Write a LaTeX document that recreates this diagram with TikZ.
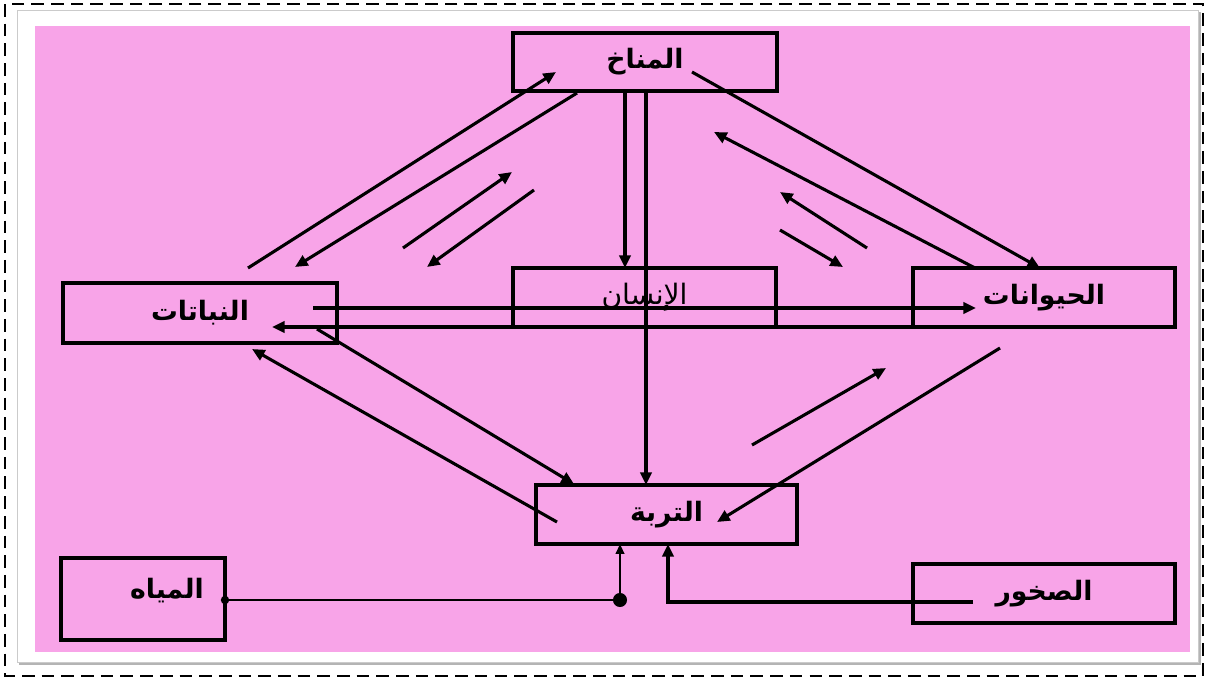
\documentclass[tikz,border=0pt]{standalone}
\usepackage{fontspec}
\TeXXeTstate=1
\newfontfamily\arabicfont[Script=Arabic]{DejaVu Sans}
\usetikzlibrary{arrows.meta}
\definecolor{panelpink}{RGB}{248,164,232}
\definecolor{cardshadow}{RGB}{180,180,180}

\tikzset{
  box/.style={draw, line width=2.6pt, inner sep=0pt},
  lbl/.style={font=\arabicfont\bfseries\fontsize{19}{22}\selectfont},
  lbllight/.style={font=\arabicfont\fontsize{20}{23}\selectfont},
  flow/.style={line width=2.2pt, -{Triangle[length=9pt,width=8pt]}},
  feed/.style={line width=1.5pt, -{Triangle[length=7pt,width=6pt]}},
  joint/.style={circle, fill=black, inner sep=0pt}
}

\begin{document}
\begin{tikzpicture}[x=0.025cm, y=-0.025cm]
\useasboundingbox (0,0) rectangle (1208,680);

% frame, card and pink panel
\fill[white] (0,0) rectangle (1208,680);
\draw[line width=1.4pt, dash pattern=on 9pt off 5pt] (5,4) rectangle (1203,676);
\fill[cardshadow] (19,12) rectangle (1201,665);
\fill[white, draw=cardshadow!70, line width=0.6pt] (17,10) rectangle (1198,662);
\fill[panelpink] (35,26) rectangle (1190,652);

% boxes
\node[box, lbl, minimum width=6.6cm, minimum height=1.45cm] (climate) at (645,62) {\beginR المناخ\endR};
\node[box, lbl, minimum width=6.85cm, minimum height=1.5cm] (plants) at (200,313) {\beginR النباتات\endR};
\node[box, lbllight, minimum width=6.575cm, minimum height=1.475cm] (human) at (644.5,297.5) {\beginR الإنسان\endR};
\node[box, lbl, minimum width=6.55cm, minimum height=1.475cm] (animals) at (1044,297.5) {\beginR الحيوانات\endR};
\node[box, lbl, minimum width=6.525cm, minimum height=1.475cm] (soil) at (666.5,514.5) {\beginR التربة\endR};
\node[box, minimum width=4.1cm, minimum height=2.05cm,
      label={[lbl, name=watertext, xshift=17pt, yshift=6pt]center:\beginR المياه\endR}] (water) at (143,599) {};
\node[box, lbl, minimum width=6.55cm, minimum height=1.475cm] (rocks) at (1044,593.5) {\beginR الصخور\endR};

% end points of the connectors
\coordinate (plUp) at (248,268);    \coordinate (clIn) at (556,72);
\coordinate (clOut) at (577,93);    \coordinate (plIn) at (295,267);
\coordinate (sLa) at (403,248);     \coordinate (sLb) at (512,172);
\coordinate (sLc) at (534,190);     \coordinate (sLd) at (427,267);
\coordinate (clA) at (625,91);      \coordinate (huTop) at (625,268);
\coordinate (clB) at (646,91);      \coordinate (soTopA) at (646,485);
\coordinate (clR) at (692,72);      \coordinate (anIn) at (1040,268);
\coordinate (anUp) at (975,268);    \coordinate (clInR) at (714,132);
\coordinate (sRa) at (867,248);     \coordinate (sRb) at (780,192);
\coordinate (sRc) at (780,230);     \coordinate (sRd) at (843,267);
\coordinate (plMid) at (313,308);   \coordinate (anMid) at (976,308);
\coordinate (anLow) at (952,327);   \coordinate (plMidIn) at (272,327);
\coordinate (plLow) at (317,329);   \coordinate (soTopL) at (574,484);
\coordinate (soLeft) at (557,522);  \coordinate (plLowIn) at (252,349);
\coordinate (anDown) at (1000,348); \coordinate (soRight) at (717,522);
\coordinate (sMa) at (752,445);     \coordinate (sMb) at (886,368);
\coordinate (waOut) at (225,600);   \coordinate (waJoin) at (620,600);
\coordinate (soBotL) at (620,544);
\coordinate (roOut) at (973,602);   \coordinate (roBend) at (668,602);
\coordinate (soBotR) at (668,544);

% climate <-> plants
\draw[flow] (plUp) -- (clIn);
\draw[flow] (clOut) -- (plIn);
\draw[flow] (sLa) -- (sLb);
\draw[flow] (sLc) -- (sLd);
% climate -> human, climate -> soil
\draw[flow] (clA) -- (huTop);
\draw[flow] (clB) -- (soTopA);
% climate <-> animals
\draw[flow] (clR) -- (anIn);
\draw[flow] (anUp) -- (clInR);
\draw[flow] (sRa) -- (sRb);
\draw[flow] (sRc) -- (sRd);
% plants <-> animals
\draw[flow] (plMid) -- (anMid);
\draw[flow] (anLow) -- (plMidIn);
% plants <-> soil
\draw[flow] (plLow) -- (soTopL);
\draw[flow] (soLeft) -- (plLowIn);
% animals <-> soil
\draw[flow] (anDown) -- (soRight);
\draw[flow] (sMa) -- (sMb);
% water and rocks feed the soil
\draw[feed] (waOut) -- (waJoin) -- (soBotL);
\node[joint, minimum size=6pt] (waDot) at (waOut) {};
\node[joint, minimum size=10pt] (joinDot) at (waJoin) {};
\draw[flow] (roOut) -- (roBend) -- (soBotR);
\end{tikzpicture}
\end{document}
